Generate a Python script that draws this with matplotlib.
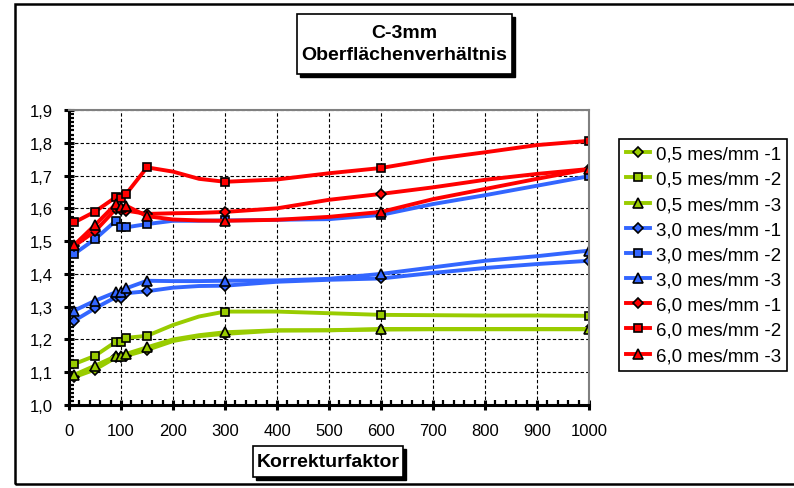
import matplotlib
matplotlib.use("Agg")
import matplotlib.pyplot as plt
from matplotlib.patches import Rectangle
from matplotlib.ticker import AutoMinorLocator

plt.rcParams['font.family'] = ['Liberation Sans', 'DejaVu Sans']

# ---------------- data ----------------
korrektur = [10, 50, 90, 100, 110, 150, 200, 250, 300, 400, 500, 600, 700, 800, 900, 1000]
marker_at = [0, 1, 2, 3, 4, 5, 8, 11, 15]

g_1 = [1.085, 1.108, 1.145, 1.147, 1.150, 1.168, 1.195, 1.210, 1.217, 1.227, 1.228, 1.230, 1.231, 1.231, 1.231, 1.231]
g_2 = [1.125, 1.150, 1.193, 1.193, 1.205, 1.211, 1.244, 1.270, 1.285, 1.285, 1.280, 1.275, 1.274, 1.273, 1.273, 1.272]
g_3 = [1.092, 1.120, 1.149, 1.149, 1.156, 1.176, 1.200, 1.213, 1.222, 1.228, 1.228, 1.232, 1.232, 1.232, 1.232, 1.232]
b_1 = [1.257, 1.295, 1.329, 1.327, 1.341, 1.347, 1.358, 1.363, 1.364, 1.376, 1.382, 1.386, 1.403, 1.418, 1.430, 1.440]
b_2 = [1.461, 1.506, 1.562, 1.542, 1.542, 1.552, 1.562, 1.562, 1.563, 1.565, 1.567, 1.580, 1.613, 1.640, 1.669, 1.698]
b_3 = [1.288, 1.318, 1.344, 1.345, 1.356, 1.379, 1.378, 1.378, 1.379, 1.380, 1.385, 1.400, 1.420, 1.440, 1.454, 1.471]
r_1 = [1.485, 1.530, 1.598, 1.595, 1.593, 1.583, 1.585, 1.586, 1.589, 1.600, 1.626, 1.644, 1.664, 1.687, 1.705, 1.720]
r_2 = [1.557, 1.590, 1.634, 1.632, 1.644, 1.725, 1.712, 1.690, 1.681, 1.688, 1.707, 1.723, 1.750, 1.771, 1.793, 1.806]
r_3 = [1.488, 1.549, 1.613, 1.605, 1.608, 1.576, 1.566, 1.563, 1.562, 1.565, 1.574, 1.589, 1.628, 1.659, 1.690, 1.720]

labels = ["0,5 mes/mm -1", "0,5 mes/mm -2", "0,5 mes/mm -3",
          "3,0 mes/mm -1", "3,0 mes/mm -2", "3,0 mes/mm -3",
          "6,0 mes/mm -1", "6,0 mes/mm -2", "6,0 mes/mm -3"]
series = [g_1, g_2, g_3, b_1, b_2, b_3, r_1, r_2, r_3]
colors = ["#99CC00"] * 3 + ["#3366FF"] * 3 + ["#FF0000"] * 3
markers = ["D", "s", "^"] * 3
msizes = [5, 5.5, 6.5] * 3

x_ticks = [0, 100, 200, 300, 400, 500, 600, 700, 800, 900, 1000]
y_ticks = [1.0, 1.1, 1.2, 1.3, 1.4, 1.5, 1.6, 1.7, 1.8, 1.9]

# ---------------- figure ----------------
W, H = 794, 489
fig = plt.figure(figsize=(W / 100, H / 100), dpi=100)


def px_rect(x0, y0, x1, y1, **kw):
    return Rectangle((x0 / W, 1 - y1 / H), (x1 - x0) / W, (y1 - y0) / H,
                     transform=fig.transFigure, **kw)


# outer chart frame (right edge is cut off in the original)
fig.patches.append(px_rect(15, 5, 810, 485, fill=False, edgecolor="black", lw=1.8))

ax = fig.add_axes([69 / W, 1 - 406 / H, 520 / W, 295 / H])

for ys, c, m, ms, lab in zip(series, colors, markers, msizes, labels):
    ax.plot(korrektur, ys, color=c, lw=2.8, marker=m, markersize=ms,
            markerfacecolor=c, markeredgecolor="black", markeredgewidth=1.2,
            markevery=marker_at, label=lab, solid_joinstyle="round")

ax.set_xlim(0, 1000)
ax.set_ylim(1.0, 1.9)
ax.set_xticks(x_ticks)
ax.set_yticks(y_ticks)
ax.set_xticklabels([str(t) for t in x_ticks], fontsize=12)
ax.set_yticklabels([f"{t:.1f}".replace(".", ",") for t in y_ticks], fontsize=12)
ax.xaxis.set_minor_locator(AutoMinorLocator(5))
ax.yaxis.set_minor_locator(AutoMinorLocator(8))

ax.grid(True, which="major", color="black", linestyle=(0, (3, 2)), lw=0.8)
ax.set_axisbelow(True)

for side in ["left", "bottom"]:
    ax.spines[side].set_color("black")
    ax.spines[side].set_linewidth(2.2)
for side in ["top", "right"]:
    ax.spines[side].set_color("#808080")
    ax.spines[side].set_linewidth(1.5)

ax.tick_params(which="major", direction="inout", length=7, width=2.2, color="black")
ax.tick_params(which="minor", direction="in", length=3.5, width=1.6, color="black")
ax.tick_params(axis="x", which="major", pad=9.5)
ax.tick_params(axis="y", which="major", pad=8)

# legend
leg = ax.legend(loc="upper left", bbox_to_anchor=(619 / W, 1 - 140 / H),
                bbox_transform=fig.transFigure, fontsize=13.5, frameon=True,
                fancybox=False, edgecolor="black", framealpha=1,
                handlelength=1.3, handletextpad=0.3, labelspacing=0.43,
                borderpad=0.35, borderaxespad=0)
leg.get_frame().set_linewidth(1.2)

# title box with shadow
fig.patches.append(px_rect(300, 18, 515, 78, facecolor="black", edgecolor="black"))
fig.patches.append(px_rect(297, 15, 512, 75, facecolor="white", edgecolor="black", lw=1.2))
fig.text(404.5 / W, 1 - 33 / H, "C-3mm", ha="center", va="center",
         fontsize=14, fontweight="bold")
fig.text(404.5 / W, 1 - 56 / H, "Oberflächenverhältnis", ha="center", va="center",
         fontsize=14, fontweight="bold")

# x-axis label box with shadow
fig.patches.append(px_rect(256, 450, 406, 481, facecolor="black", edgecolor="black"))
fig.patches.append(px_rect(253, 447, 403, 478, facecolor="white", edgecolor="black", lw=1.2))
fig.text(328 / W, 1 - 463 / H, "Korrekturfaktor", ha="center", va="center",
         fontsize=14, fontweight="bold")

fig.savefig("out.png", dpi=100)
